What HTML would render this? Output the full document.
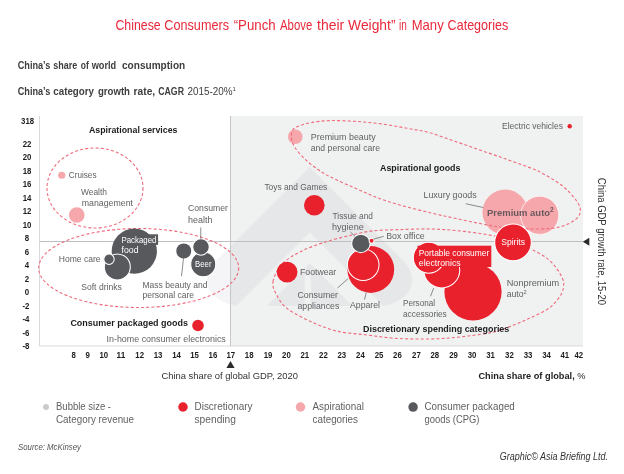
<!DOCTYPE html>
<html><head><meta charset="utf-8"><title>Chinese Consumers Punch Above their Weight</title>
<style>
html,body{margin:0;padding:0;background:#fff;}
body{width:624px;height:474px;overflow:hidden;}
svg{display:block;font-family:"Liberation Sans",sans-serif;}
</style></head><body>
<svg width="624" height="474" viewBox="0 0 624 474">
<defs><clipPath id="plotclip"><rect x="40" y="116" width="543" height="230"/></clipPath></defs>
<rect x="0" y="0" width="624" height="474" fill="#fff"/>
<rect x="230.5" y="116" width="352.5" height="230" fill="#f0f1f1"/>
<g fill="#000030" fill-opacity="0.038" clip-path="url(#plotclip)" transform="translate(1.2,0)"><path fill-rule="evenodd" d="M308.5,167 L213,262.5 Q198.5,281 213,296 Q225,306 240,306 L377,306 Q392,306 404,296 Q418.5,281 404,262.5 Z M308.5,232.5 L235,306 L265.5,306 L308.5,263 L351.5,306 L382,306 Z M303.5,275 H309.7 V306 H303.5 Z"/></g>
<path d="M39.5,116V346H583" fill="none" stroke="#d9d9db" stroke-width="1"/>
<path d="M230.5,116V346" fill="none" stroke="#c6c6c8" stroke-width="1"/>
<path d="M39.5,241.5H583" fill="none" stroke="#bfbfc1" stroke-width="1"/>
<circle cx="505.1" cy="212.2" r="22.6" fill="#f5a7ab"/><circle cx="539.7" cy="215.3" r="19.1" fill="#f5a7ab" stroke="#fff" stroke-width="0.7"/>
<circle cx="295.25" cy="136.75" r="7.25" fill="#f5a7ab"/>
<ellipse cx="95" cy="188" rx="48" ry="40" fill="none" stroke="#ef6a7a" stroke-width="1.1" stroke-dasharray="3 2.2"/>
<ellipse cx="138.7" cy="268" rx="100" ry="39.5" fill="none" stroke="#ef6a7a" stroke-width="1.1" stroke-dasharray="3 2.2"/>
<path d="M291.4,135.3C291.5,133.6 291.3,131.8 292.4,130.3C293.4,128.8 294.7,127.8 297.7,126.5C300.7,125.2 304.9,123.7 310.4,122.7C315.9,121.7 323.1,120.8 330.7,120.6C338.3,120.4 347.6,120.9 356.0,121.4C364.4,122.0 372.9,122.8 381.3,123.9C389.8,125.0 398.6,126.7 406.7,128.2C414.8,129.7 421.8,130.6 430.0,132.8C438.2,135.1 447.4,138.8 456.0,141.7C464.6,144.6 472.9,147.6 481.3,150.5C489.8,153.4 498.6,156.5 506.7,159.4C514.8,162.3 524.2,165.6 530.0,167.8C535.8,170.0 536.0,169.8 541.3,172.7C546.6,175.6 556.1,181.1 561.6,185.3C567.1,189.5 571.2,194.2 574.3,198.0C577.4,201.8 579.5,204.9 580.1,208.1C580.7,211.3 580.3,214.2 578.1,217.0C575.9,219.8 571.1,222.7 566.7,224.6C562.3,226.5 557.8,227.7 551.5,228.4C545.2,229.1 536.7,229.0 528.7,228.9C520.7,228.8 511.2,228.4 503.3,227.6C495.4,226.8 489.2,225.3 481.3,223.8C473.4,222.3 464.2,220.3 456.0,218.5C447.8,216.7 440.4,215.2 432.0,213.2C423.6,211.2 414.0,208.9 405.3,206.5C396.6,204.1 388.2,201.7 380.0,198.7C371.8,195.7 364.2,192.1 356.0,188.5C347.8,184.9 337.0,180.3 330.7,177.1C324.4,173.9 322.2,172.4 318.0,169.5C313.8,166.6 309.1,163.0 305.3,159.4C301.5,155.8 297.4,151.2 295.2,148.0C293.0,144.8 292.5,142.5 291.9,140.4C291.3,138.3 291.3,137.0 291.4,135.3Z" fill="none" stroke="#ef6a7a" stroke-width="1.1" stroke-dasharray="3 2.2"/>
<path d="M273.0,281.7C273.9,276.4 277.5,268.9 282.5,263.7C287.5,258.5 295.3,254.3 303.0,250.5C310.7,246.7 320.2,243.7 328.7,241.0C337.2,238.3 346.6,236.3 354.0,234.6C361.4,232.9 365.3,231.6 373.0,230.8C380.7,230.0 390.2,229.9 400.0,229.6C409.8,229.3 421.3,228.7 432.0,229.0C442.7,229.3 453.4,230.2 464.1,231.4C474.8,232.6 487.7,234.6 496.2,236.3C504.7,238.0 509.2,239.4 515.0,241.5C520.8,243.6 526.0,246.4 531.2,249.1C536.4,251.8 542.2,254.7 546.4,257.9C550.6,261.1 553.8,264.5 556.5,268.1C559.2,271.7 561.7,276.5 562.9,279.5C564.1,282.5 563.8,283.7 563.6,286.0C563.4,288.3 563.0,290.7 561.6,293.4C560.2,296.1 557.8,299.6 555.3,302.3C552.8,305.1 550.6,307.3 546.4,309.9C542.2,312.5 535.2,315.6 530.0,318.0C524.8,320.4 521.0,322.2 515.0,324.5C509.0,326.8 501.8,330.1 494.0,332.0C486.2,333.9 476.6,334.9 468.0,336.0C459.4,337.1 451.1,338.0 442.6,338.5C434.1,339.0 425.6,339.1 417.0,339.0C408.4,338.9 399.9,338.7 391.3,338.0C382.7,337.3 374.5,335.9 365.6,334.8C356.7,333.7 346.8,333.4 338.0,331.4C329.2,329.3 321.1,326.3 312.7,322.5C304.2,318.7 293.2,313.1 287.3,308.6C281.4,304.1 279.4,300.0 277.0,295.5C274.6,291.0 272.1,287.0 273.0,281.7Z" fill="none" stroke="#ef6a7a" stroke-width="1.1" stroke-dasharray="3 2.2"/>
<circle cx="61.75" cy="175.25" r="3.6" fill="#f5a7ab"/>
<circle cx="76.75" cy="215.0" r="7.8" fill="#f5a7ab"/>
<circle cx="134.3" cy="251.2" r="22.6" fill="#58595d"/>
<rect x="120.5" y="234.3" width="37.6" height="10.6" fill="#58595d"/>
<circle cx="117.3" cy="266.9" r="13" fill="#58595d" stroke="#fff" stroke-width="1.05"/>
<circle cx="109" cy="259.2" r="5.2" fill="#58595d" stroke="#fff" stroke-width="1.05"/>
<circle cx="183.75" cy="250.9" r="7.5" fill="#58595d"/>
<circle cx="203.25" cy="264.25" r="12.5" fill="#58595d" stroke="#fff" stroke-width="1.05"/>
<circle cx="201" cy="246.9" r="8.25" fill="#58595d" stroke="#fff" stroke-width="1.05"/>
<circle cx="198" cy="325.5" r="5.8" fill="#e9212d"/>
<circle cx="314.3" cy="205.3" r="10.3" fill="#e9212d"/>
<circle cx="287.1" cy="272.1" r="10.4" fill="#e9212d"/>
<circle cx="370.8" cy="269.5" r="23.4" fill="#e9212d"/>
<circle cx="363.2" cy="264.8" r="15.8" fill="#e9212d" stroke="#fff" stroke-width="1.05"/>
<circle cx="360.9" cy="243.4" r="9.25" fill="#58595d" stroke="#fff" stroke-width="1.05"/>
<circle cx="371.6" cy="240.7" r="2.5" fill="#e9212d" stroke="#fff" stroke-width="1.05"/>
<circle cx="473" cy="291.8" r="28.6" fill="#e9212d"/>
<circle cx="441.75" cy="270.0" r="18" fill="#e9212d" stroke="#fff" stroke-width="1.05"/>
<circle cx="428.8" cy="257.7" r="15.5" fill="#e9212d" stroke="#fff" stroke-width="1.05"/>
<rect x="417.5" y="245.7" width="73.8" height="21.3" fill="#e9212d"/>
<circle cx="513" cy="242.4" r="18.3" fill="#e9212d" stroke="#fff" stroke-width="1.05"/>
<circle cx="569.7" cy="126.3" r="2.2" fill="#e9212d"/>
<path d="M200.75,227.5V238.75" stroke="#5b5b5d" stroke-width="0.7" fill="none"/>
<path d="M183.5,258L181.5,276.25" stroke="#5b5b5d" stroke-width="0.7" fill="none"/>
<path d="M350.5,232L355,236.25" stroke="#5b5b5d" stroke-width="0.7" fill="none"/>
<path d="M373.25,239.25L383.75,236.25" stroke="#5b5b5d" stroke-width="0.7" fill="none"/>
<path d="M337.5,288L348,278.75" stroke="#5b5b5d" stroke-width="0.7" fill="none"/>
<path d="M366.25,292.5L364.5,299.5" stroke="#5b5b5d" stroke-width="0.7" fill="none"/>
<path d="M433.75,288L430.5,296.25" stroke="#5b5b5d" stroke-width="0.7" fill="none"/>
<path d="M465.75,203.75L483.25,207.5" stroke="#5b5b5d" stroke-width="0.7" fill="none"/>
<path d="M230.5,361L234.6,368H226.4Z" fill="#2b2b2b"/>
<path d="M582.8,241.7L589.3,237.8V245.8Z" fill="#2b2b2b"/>
<text y="30.1" font-size="14.4" fill="#e9283a"><tspan x="115.4" textLength="45.3" lengthAdjust="spacingAndGlyphs">Chinese</tspan> <tspan x="164.3" textLength="64.7" lengthAdjust="spacingAndGlyphs">Consumers</tspan> <tspan x="233.7" textLength="42" lengthAdjust="spacingAndGlyphs">“Punch</tspan> <tspan x="280" textLength="32.3" lengthAdjust="spacingAndGlyphs">Above</tspan> <tspan x="317.1" textLength="27.1" lengthAdjust="spacingAndGlyphs">their</tspan> <tspan x="348.1" textLength="47.4" lengthAdjust="spacingAndGlyphs">Weight”</tspan> <tspan x="399" textLength="7.8" lengthAdjust="spacingAndGlyphs">in</tspan> <tspan x="411.7" textLength="32" lengthAdjust="spacingAndGlyphs">Many</tspan> <tspan x="447.6" textLength="60.7" lengthAdjust="spacingAndGlyphs">Categories</tspan></text>
<text y="68.8" font-size="10" font-weight="bold" fill="#3e3e41"><tspan x="17.7" textLength="32.7" lengthAdjust="spacingAndGlyphs">China’s</tspan> <tspan x="53.3" textLength="24" lengthAdjust="spacingAndGlyphs">share</tspan> <tspan x="80.8" textLength="8" lengthAdjust="spacingAndGlyphs">of</tspan> <tspan x="91.7" textLength="24.5" lengthAdjust="spacingAndGlyphs">world</tspan> <tspan x="122" textLength="63.2" lengthAdjust="spacingAndGlyphs">consumption</tspan></text>
<text y="95" font-size="10" font-weight="bold" fill="#3e3e41"><tspan x="17.7" textLength="32.7" lengthAdjust="spacingAndGlyphs">China’s</tspan> <tspan x="53.3" textLength="40.7" lengthAdjust="spacingAndGlyphs">category</tspan> <tspan x="97.9" textLength="32.1" lengthAdjust="spacingAndGlyphs">growth</tspan> <tspan x="133.6" textLength="21.6" lengthAdjust="spacingAndGlyphs">rate,</tspan> <tspan x="158.2" textLength="25.8" lengthAdjust="spacingAndGlyphs">CAGR</tspan> <tspan x="187.5" font-weight="normal" textLength="45" lengthAdjust="spacingAndGlyphs">2015-20%</tspan><tspan font-weight="normal" font-size="6" dy="-3.6">1</tspan></text>
<text x="27.6" y="123.7" font-size="8.8" font-weight="bold" text-anchor="middle" fill="#1d1d1f" textLength="13" lengthAdjust="spacingAndGlyphs">318</text>
<text x="27.0" y="146.5" font-size="8.8" font-weight="bold" text-anchor="middle" fill="#1d1d1f" textLength="8.7" lengthAdjust="spacingAndGlyphs">22</text>
<text x="27.0" y="160.0" font-size="8.8" font-weight="bold" text-anchor="middle" fill="#1d1d1f" textLength="8.7" lengthAdjust="spacingAndGlyphs">20</text>
<text x="27.0" y="173.5" font-size="8.8" font-weight="bold" text-anchor="middle" fill="#1d1d1f" textLength="8.7" lengthAdjust="spacingAndGlyphs">18</text>
<text x="27.0" y="187.0" font-size="8.8" font-weight="bold" text-anchor="middle" fill="#1d1d1f" textLength="8.7" lengthAdjust="spacingAndGlyphs">16</text>
<text x="27.0" y="200.5" font-size="8.8" font-weight="bold" text-anchor="middle" fill="#1d1d1f" textLength="8.7" lengthAdjust="spacingAndGlyphs">14</text>
<text x="27.0" y="214.0" font-size="8.8" font-weight="bold" text-anchor="middle" fill="#1d1d1f" textLength="8.7" lengthAdjust="spacingAndGlyphs">12</text>
<text x="27.0" y="227.5" font-size="8.8" font-weight="bold" text-anchor="middle" fill="#1d1d1f" textLength="8.7" lengthAdjust="spacingAndGlyphs">10</text>
<text x="27.0" y="241.0" font-size="8.8" font-weight="bold" text-anchor="middle" fill="#1d1d1f" textLength="4.4" lengthAdjust="spacingAndGlyphs">8</text>
<text x="27.0" y="254.5" font-size="8.8" font-weight="bold" text-anchor="middle" fill="#1d1d1f" textLength="4.4" lengthAdjust="spacingAndGlyphs">6</text>
<text x="27.0" y="268.0" font-size="8.8" font-weight="bold" text-anchor="middle" fill="#1d1d1f" textLength="4.4" lengthAdjust="spacingAndGlyphs">4</text>
<text x="27.0" y="281.5" font-size="8.8" font-weight="bold" text-anchor="middle" fill="#1d1d1f" textLength="4.4" lengthAdjust="spacingAndGlyphs">2</text>
<text x="27.0" y="295.0" font-size="8.8" font-weight="bold" text-anchor="middle" fill="#1d1d1f" textLength="4.4" lengthAdjust="spacingAndGlyphs">0</text>
<text x="26.0" y="308.5" font-size="8.8" font-weight="bold" text-anchor="middle" fill="#1d1d1f" textLength="7.0" lengthAdjust="spacingAndGlyphs">-2</text>
<text x="26.0" y="322.0" font-size="8.8" font-weight="bold" text-anchor="middle" fill="#1d1d1f" textLength="7.0" lengthAdjust="spacingAndGlyphs">-4</text>
<text x="26.0" y="335.5" font-size="8.8" font-weight="bold" text-anchor="middle" fill="#1d1d1f" textLength="7.0" lengthAdjust="spacingAndGlyphs">-6</text>
<text x="26.0" y="349.0" font-size="8.8" font-weight="bold" text-anchor="middle" fill="#1d1d1f" textLength="7.0" lengthAdjust="spacingAndGlyphs">-8</text>
<text x="73.8" y="358.1" font-size="8.8" font-weight="bold" text-anchor="middle" fill="#1d1d1f" textLength="4.4" lengthAdjust="spacingAndGlyphs">8</text>
<text x="87.7" y="358.1" font-size="8.8" font-weight="bold" text-anchor="middle" fill="#1d1d1f" textLength="4.4" lengthAdjust="spacingAndGlyphs">9</text>
<text x="103.8" y="358.1" font-size="8.8" font-weight="bold" text-anchor="middle" fill="#1d1d1f" textLength="8.7" lengthAdjust="spacingAndGlyphs">10</text>
<text x="120.9" y="358.1" font-size="8.8" font-weight="bold" text-anchor="middle" fill="#1d1d1f" textLength="8.7" lengthAdjust="spacingAndGlyphs">11</text>
<text x="139.7" y="358.1" font-size="8.8" font-weight="bold" text-anchor="middle" fill="#1d1d1f" textLength="8.7" lengthAdjust="spacingAndGlyphs">12</text>
<text x="158.1" y="358.1" font-size="8.8" font-weight="bold" text-anchor="middle" fill="#1d1d1f" textLength="8.7" lengthAdjust="spacingAndGlyphs">13</text>
<text x="176.5" y="358.1" font-size="8.8" font-weight="bold" text-anchor="middle" fill="#1d1d1f" textLength="8.7" lengthAdjust="spacingAndGlyphs">14</text>
<text x="194.5" y="358.1" font-size="8.8" font-weight="bold" text-anchor="middle" fill="#1d1d1f" textLength="8.7" lengthAdjust="spacingAndGlyphs">15</text>
<text x="212.9" y="358.1" font-size="8.8" font-weight="bold" text-anchor="middle" fill="#1d1d1f" textLength="8.7" lengthAdjust="spacingAndGlyphs">16</text>
<text x="230.8" y="358.1" font-size="8.8" font-weight="bold" text-anchor="middle" fill="#1d1d1f" textLength="8.7" lengthAdjust="spacingAndGlyphs">17</text>
<text x="249.2" y="358.1" font-size="8.8" font-weight="bold" text-anchor="middle" fill="#1d1d1f" textLength="8.7" lengthAdjust="spacingAndGlyphs">18</text>
<text x="268" y="358.1" font-size="8.8" font-weight="bold" text-anchor="middle" fill="#1d1d1f" textLength="8.7" lengthAdjust="spacingAndGlyphs">19</text>
<text x="286.4" y="358.1" font-size="8.8" font-weight="bold" text-anchor="middle" fill="#1d1d1f" textLength="8.7" lengthAdjust="spacingAndGlyphs">20</text>
<text x="304.8" y="358.1" font-size="8.8" font-weight="bold" text-anchor="middle" fill="#1d1d1f" textLength="8.7" lengthAdjust="spacingAndGlyphs">21</text>
<text x="323.4" y="358.1" font-size="8.8" font-weight="bold" text-anchor="middle" fill="#1d1d1f" textLength="8.7" lengthAdjust="spacingAndGlyphs">22</text>
<text x="341.8" y="358.1" font-size="8.8" font-weight="bold" text-anchor="middle" fill="#1d1d1f" textLength="8.7" lengthAdjust="spacingAndGlyphs">23</text>
<text x="360.4" y="358.1" font-size="8.8" font-weight="bold" text-anchor="middle" fill="#1d1d1f" textLength="8.7" lengthAdjust="spacingAndGlyphs">24</text>
<text x="379" y="358.1" font-size="8.8" font-weight="bold" text-anchor="middle" fill="#1d1d1f" textLength="8.7" lengthAdjust="spacingAndGlyphs">25</text>
<text x="397.4" y="358.1" font-size="8.8" font-weight="bold" text-anchor="middle" fill="#1d1d1f" textLength="8.7" lengthAdjust="spacingAndGlyphs">26</text>
<text x="416.4" y="358.1" font-size="8.8" font-weight="bold" text-anchor="middle" fill="#1d1d1f" textLength="8.7" lengthAdjust="spacingAndGlyphs">27</text>
<text x="434.8" y="358.1" font-size="8.8" font-weight="bold" text-anchor="middle" fill="#1d1d1f" textLength="8.7" lengthAdjust="spacingAndGlyphs">28</text>
<text x="453.5" y="358.1" font-size="8.8" font-weight="bold" text-anchor="middle" fill="#1d1d1f" textLength="8.7" lengthAdjust="spacingAndGlyphs">29</text>
<text x="472.1" y="358.1" font-size="8.8" font-weight="bold" text-anchor="middle" fill="#1d1d1f" textLength="8.7" lengthAdjust="spacingAndGlyphs">30</text>
<text x="490.6" y="358.1" font-size="8.8" font-weight="bold" text-anchor="middle" fill="#1d1d1f" textLength="8.7" lengthAdjust="spacingAndGlyphs">31</text>
<text x="509.4" y="358.1" font-size="8.8" font-weight="bold" text-anchor="middle" fill="#1d1d1f" textLength="8.7" lengthAdjust="spacingAndGlyphs">32</text>
<text x="528" y="358.1" font-size="8.8" font-weight="bold" text-anchor="middle" fill="#1d1d1f" textLength="8.7" lengthAdjust="spacingAndGlyphs">33</text>
<text x="546.5" y="358.1" font-size="8.8" font-weight="bold" text-anchor="middle" fill="#1d1d1f" textLength="8.7" lengthAdjust="spacingAndGlyphs">34</text>
<text x="564.8" y="358.1" font-size="8.8" font-weight="bold" text-anchor="middle" fill="#1d1d1f" textLength="8.7" lengthAdjust="spacingAndGlyphs">41</text>
<text x="578.8" y="358.1" font-size="8.8" font-weight="bold" text-anchor="middle" fill="#1d1d1f" textLength="8.7" lengthAdjust="spacingAndGlyphs">42</text>
<text x="89" y="132.6" font-size="9.3" font-weight="bold" fill="#1d1d1f" textLength="88.5" lengthAdjust="spacingAndGlyphs">Aspirational services</text>
<text x="70.4" y="325.8" font-size="9.3" font-weight="bold" fill="#1d1d1f" textLength="117.6" lengthAdjust="spacingAndGlyphs">Consumer packaged goods</text>
<text x="380" y="171.3" font-size="9.3" font-weight="bold" fill="#1d1d1f" textLength="80.5" lengthAdjust="spacingAndGlyphs">Aspirational goods</text>
<text x="363" y="331.6" font-size="9.3" font-weight="bold" fill="#1d1d1f" textLength="146.3" lengthAdjust="spacingAndGlyphs">Discretionary spending categories</text>
<text x="68.75" y="178" font-size="9.1" fill="#616164" textLength="27.75" lengthAdjust="spacingAndGlyphs">Cruises</text>
<text x="81" y="195" font-size="9.1" fill="#616164" textLength="26" lengthAdjust="spacingAndGlyphs">Wealth</text>
<text x="81.75" y="205.5" font-size="9.1" fill="#616164" textLength="51.3" lengthAdjust="spacingAndGlyphs">management</text>
<text x="58.75" y="261.5" font-size="9.1" fill="#616164" textLength="41.75" lengthAdjust="spacingAndGlyphs">Home care</text>
<text x="81.25" y="289.5" font-size="9.1" fill="#616164" textLength="40.5" lengthAdjust="spacingAndGlyphs">Soft drinks</text>
<text x="142.5" y="287.5" font-size="9.1" fill="#616164" textLength="65" lengthAdjust="spacingAndGlyphs">Mass beauty and</text>
<text x="142.5" y="298.2" font-size="9.1" fill="#616164" textLength="51.5" lengthAdjust="spacingAndGlyphs">personal care</text>
<text x="188" y="211.4" font-size="9.1" fill="#616164" textLength="40" lengthAdjust="spacingAndGlyphs">Consumer</text>
<text x="188" y="222.6" font-size="9.1" fill="#616164" textLength="24.5" lengthAdjust="spacingAndGlyphs">health</text>
<text x="106.5" y="341.5" font-size="9.1" fill="#616164" textLength="119.3" lengthAdjust="spacingAndGlyphs">In-home consumer electronics</text>
<text x="310.75" y="139.75" font-size="9.1" fill="#616164" textLength="65" lengthAdjust="spacingAndGlyphs">Premium beauty</text>
<text x="310.75" y="150.5" font-size="9.1" fill="#616164" textLength="69.25" lengthAdjust="spacingAndGlyphs">and personal care</text>
<text x="264.4" y="189.8" font-size="9.1" fill="#616164" textLength="62.9" lengthAdjust="spacingAndGlyphs">Toys and Games</text>
<text x="332.5" y="218.75" font-size="9.1" fill="#616164" textLength="40.5" lengthAdjust="spacingAndGlyphs">Tissue and</text>
<text x="332" y="229.9" font-size="9.1" fill="#616164" textLength="31.75" lengthAdjust="spacingAndGlyphs">hygiene</text>
<text x="386.25" y="238.75" font-size="9.1" fill="#616164" textLength="38.5" lengthAdjust="spacingAndGlyphs">Box office</text>
<text x="300" y="274.5" font-size="9.1" fill="#616164" textLength="36.25" lengthAdjust="spacingAndGlyphs">Footwear</text>
<text x="297.5" y="297.5" font-size="9.1" fill="#616164" textLength="40.5" lengthAdjust="spacingAndGlyphs">Consumer</text>
<text x="297.5" y="308.7" font-size="9.1" fill="#616164" textLength="41.75" lengthAdjust="spacingAndGlyphs">appliances</text>
<text x="350" y="308.2" font-size="9.1" fill="#616164" textLength="30" lengthAdjust="spacingAndGlyphs">Apparel</text>
<text x="403" y="306" font-size="9.1" fill="#616164" textLength="32" lengthAdjust="spacingAndGlyphs">Personal</text>
<text x="403" y="317.2" font-size="9.1" fill="#616164" textLength="43.75" lengthAdjust="spacingAndGlyphs">accessories</text>
<text x="423.5" y="198" font-size="9.1" fill="#616164" textLength="53.25" lengthAdjust="spacingAndGlyphs">Luxury goods</text>
<text x="502" y="128.75" font-size="9.1" fill="#616164" textLength="61" lengthAdjust="spacingAndGlyphs">Electric vehicles</text>
<text x="506.75" y="285.5" font-size="9.1" fill="#616164" textLength="52.5" lengthAdjust="spacingAndGlyphs">Nonpremium</text>
<text x="506.75" y="297" font-size="9.1" fill="#616164" textLength="20" lengthAdjust="spacingAndGlyphs">auto<tspan font-size="6" dy="-3.5">2</tspan></text>
<text x="487" y="215.5" font-size="9.3" font-weight="bold" fill="#6a585d" textLength="66.75" lengthAdjust="spacingAndGlyphs">Premium auto<tspan font-size="6.5" dy="-3.8">2</tspan></text>
<text x="121.5" y="243" font-size="9.1" fill="#fff" textLength="35" lengthAdjust="spacingAndGlyphs">Packaged</text>
<text x="121.5" y="253.2" font-size="9.1" fill="#fff" textLength="17" lengthAdjust="spacingAndGlyphs">food</text>
<text x="195" y="267.3" font-size="9.1" fill="#fff" textLength="16.5" lengthAdjust="spacingAndGlyphs">Beer</text>
<text x="501.25" y="245" font-size="9.1" fill="#fff" textLength="23.75" lengthAdjust="spacingAndGlyphs">Spirits</text>
<text x="418.75" y="255.75" font-size="9.1" fill="#fff" textLength="70.5" lengthAdjust="spacingAndGlyphs">Portable consumer</text>
<text x="418.75" y="265.7" font-size="9.1" fill="#fff" textLength="42" lengthAdjust="spacingAndGlyphs">electronics</text>
<text x="161.5" y="378.5" font-size="9.6" fill="#333335" textLength="136.5" lengthAdjust="spacingAndGlyphs">China share of global GDP, 2020</text>
<text x="478.4" y="378.7" font-size="9.6" fill="#1d1d1f" textLength="107.1" lengthAdjust="spacingAndGlyphs"><tspan font-weight="bold">China share of global,</tspan> %</text>
<text transform="translate(597.6,177.8) rotate(90)" font-size="10.2" fill="#333335" textLength="127.2" lengthAdjust="spacingAndGlyphs">China GDP growth rate, 15-20</text>
<circle cx="46" cy="407" r="3" fill="#cbcbcd"/>
<circle cx="183" cy="407" r="4.75" fill="#e9212d"/>
<circle cx="300.5" cy="407" r="4.75" fill="#f5a7ab"/>
<circle cx="413.1" cy="407.1" r="4.75" fill="#58595d"/>
<text x="56" y="410" font-size="10.2" fill="#616164" textLength="55" lengthAdjust="spacingAndGlyphs">Bubble size -</text>
<text x="56" y="423" font-size="10.2" fill="#616164" textLength="78" lengthAdjust="spacingAndGlyphs">Category revenue</text>
<text x="194.5" y="410" font-size="10.2" fill="#616164" textLength="58" lengthAdjust="spacingAndGlyphs">Discretionary</text>
<text x="194.5" y="423" font-size="10.2" fill="#616164" textLength="41.5" lengthAdjust="spacingAndGlyphs">spending</text>
<text x="312.5" y="409.6" font-size="10.2" fill="#616164" textLength="51.4" lengthAdjust="spacingAndGlyphs">Aspirational</text>
<text x="312.5" y="422.8" font-size="10.2" fill="#616164" textLength="45.5" lengthAdjust="spacingAndGlyphs">categories</text>
<text x="424.4" y="409.6" font-size="10.2" fill="#616164" textLength="90.4" lengthAdjust="spacingAndGlyphs">Consumer packaged</text>
<text x="424.4" y="422.8" font-size="10.2" fill="#616164" textLength="55.1" lengthAdjust="spacingAndGlyphs">goods (CPG)</text>
<text x="18" y="449.5" font-size="8.4" font-style="italic" fill="#555557" textLength="63" lengthAdjust="spacingAndGlyphs">Source: McKinsey</text>
<text x="499.8" y="460" font-size="10.2" font-style="italic" fill="#333335" textLength="108.2" lengthAdjust="spacingAndGlyphs">Graphic© Asia Briefing Ltd.</text>
</svg>
</body></html>
